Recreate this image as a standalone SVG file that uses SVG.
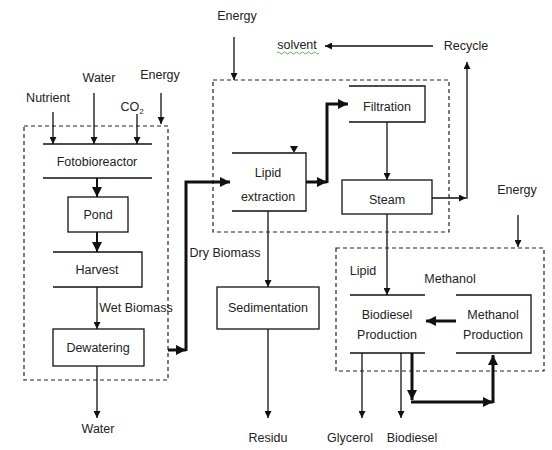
<svg xmlns="http://www.w3.org/2000/svg" width="552" height="450" viewBox="0 0 552 450">
<defs>
<style>
text{font-family:"Liberation Sans",Arial,sans-serif;font-size:12.5px;fill:#222;text-anchor:middle}
.b{fill:none;stroke:#111;stroke-width:1.3}
.d{fill:none;stroke:#222;stroke-width:1.2;stroke-dasharray:4 3}
.c{fill:none;stroke:#111;stroke-width:1.3}
.t{fill:none;stroke:#111;stroke-width:3}
</style>
<marker id="a" viewBox="0 0 10 10" refX="10" refY="5" markerWidth="8" markerHeight="7" markerUnits="userSpaceOnUse" orient="auto"><path d="M0,0 L10,5 L0,10 z" fill="#111"/></marker>
<marker id="k" viewBox="0 0 10 10" refX="10" refY="5" markerWidth="10" markerHeight="10" markerUnits="userSpaceOnUse" orient="auto"><path d="M0,0 L10,5 L0,10 z" fill="#111"/></marker>
</defs>
<rect width="552" height="450" fill="#fff"/>

<g id="boundaries">
<rect class="d" x="24" y="126" width="144" height="254"/>
<rect class="d" x="213" y="80" width="236" height="152"/>
<rect class="d" x="336" y="248" width="208" height="123"/>
</g>

<g id="connectors">
<line class="c" x1="53" y1="112" x2="53" y2="144" marker-end="url(#a)"/>
<line class="c" x1="94" y1="93" x2="94" y2="144" marker-end="url(#a)"/>
<line class="c" x1="137" y1="114" x2="137" y2="144" marker-end="url(#a)"/>
<line class="c" x1="161" y1="93" x2="161" y2="124" marker-end="url(#a)"/>
<line class="c" x1="97" y1="178" x2="97" y2="197" marker-end="url(#k)" style="stroke-width:2"/>
<line class="c" x1="97" y1="232" x2="97" y2="252" marker-end="url(#k)" style="stroke-width:2"/>
<line class="c" x1="97" y1="287" x2="97" y2="329" marker-end="url(#a)"/>
<line class="c" x1="97" y1="366" x2="97" y2="418" marker-end="url(#a)"/>
<line class="t" x1="168" y1="350" x2="186" y2="350" marker-end="url(#k)"/>
<polyline class="t" points="186,351 186,182 230,182" marker-end="url(#k)"/>
<polygon points="290,146 298,146 294,153" fill="#111"/>
<line class="t" x1="306" y1="182" x2="327" y2="182" marker-end="url(#k)"/>
<polyline class="t" points="327,183 327,104 348,104" marker-end="url(#k)"/>
<line class="c" x1="387" y1="122" x2="387" y2="180" marker-end="url(#a)"/>
<line class="c" x1="432" y1="198" x2="466" y2="198" marker-end="url(#a)"/>
<line class="c" x1="467" y1="199" x2="467" y2="62" marker-end="url(#a)"/>
<line class="c" x1="433" y1="46" x2="325" y2="46" marker-end="url(#a)"/>
<line class="c" x1="234" y1="37" x2="234" y2="80" marker-end="url(#a)"/>
<line class="c" x1="268" y1="211" x2="268" y2="287" marker-end="url(#a)"/>
<line class="c" x1="268" y1="329" x2="268" y2="418" marker-end="url(#a)"/>
<line class="c" x1="518" y1="215" x2="518" y2="247" marker-end="url(#a)"/>
<line class="c" x1="387" y1="214" x2="387" y2="295" marker-end="url(#a)"/>
<line class="t" x1="456" y1="321" x2="426" y2="321" marker-end="url(#k)"/>
<line class="c" x1="362" y1="353" x2="362" y2="418" marker-end="url(#a)"/>
<line class="c" x1="401" y1="353" x2="401" y2="418" marker-end="url(#a)"/>
<line class="t" x1="412" y1="353" x2="412" y2="400" marker-end="url(#k)"/>
<line class="t" x1="411" y1="402" x2="493" y2="402" marker-end="url(#k)"/>
<line class="t" x1="493" y1="403" x2="493" y2="355" marker-end="url(#k)"/>
</g>

<g id="fotobioreactor">
<line class="b" x1="43" y1="144" x2="152" y2="144"/>
<line class="b" x1="43" y1="178" x2="152" y2="178"/>
<text x="97" y="166">Fotobioreactor</text>
</g>
<g id="pond">
<rect class="b" x="68" y="197" width="60" height="35"/>
<text x="98" y="219">Pond</text>
</g>
<g id="harvest">
<polyline class="b" points="53,252 142,252 142,287 53,287"/>
<text x="97" y="274">Harvest</text>
</g>
<g id="dewatering">
<rect class="b" x="53" y="329" width="91" height="37"/>
<text x="98" y="352">Dewatering</text>
</g>
<g id="lipid-extraction">
<polyline class="b" points="232,153 306,153 306,211 232,211"/>
<text x="268" y="177">Lipid</text>
<text x="268" y="201">extraction</text>
</g>
<g id="filtration">
<polyline class="b" points="349,86 425,86 425,122 349,122"/>
<text x="387" y="111">Filtration</text>
</g>
<g id="steam">
<rect class="b" x="342" y="180" width="90" height="34"/>
<text x="387" y="204">Steam</text>
</g>
<g id="sedimentation">
<rect class="b" x="217" y="287" width="102" height="42"/>
<text x="268" y="312">Sedimentation</text>
</g>
<g id="biodiesel-production">
<line class="b" x1="350" y1="295" x2="425" y2="295"/>
<line class="b" x1="350" y1="353" x2="425" y2="353"/>
<text x="387" y="319">Biodiesel</text>
<text x="387" y="339">Production</text>
</g>
<g id="methanol-production">
<polyline class="b" points="456,295 531,295 531,353 456,353"/>
<text x="493" y="319">Methanol</text>
<text x="493" y="339">Production</text>
</g>

<g id="labels">
<text x="48" y="102">Nutrient</text>
<text x="99" y="82">Water</text>
<text x="132" y="111">CO<tspan font-size="8" dy="3">2</tspan></text>
<text x="160" y="79">Energy</text>
<text x="237" y="20">Energy</text>
<text x="297" y="49">solvent</text>
<path d="M277,53 q1.5,-2 3,0 t3,0 t3,0 t3,0 t3,0 t3,0 t3,0 t3,0 t3,0 t3,0 t3,0 t3,0 t3,0 t3,0" fill="none" stroke="#3a9a3a" stroke-width="0.8"/>
<text x="466" y="50">Recycle</text>
<text x="517" y="194">Energy</text>
<text x="136" y="312">Wet Biomass</text>
<text x="225" y="257">Dry Biomass</text>
<text x="98" y="433">Water</text>
<text x="268" y="442">Residu</text>
<text x="363" y="275">Lipid</text>
<text x="450" y="283">Methanol</text>
<text x="350" y="442">Glycerol</text>
<text x="412" y="442">Biodiesel</text>
</g>
</svg>
